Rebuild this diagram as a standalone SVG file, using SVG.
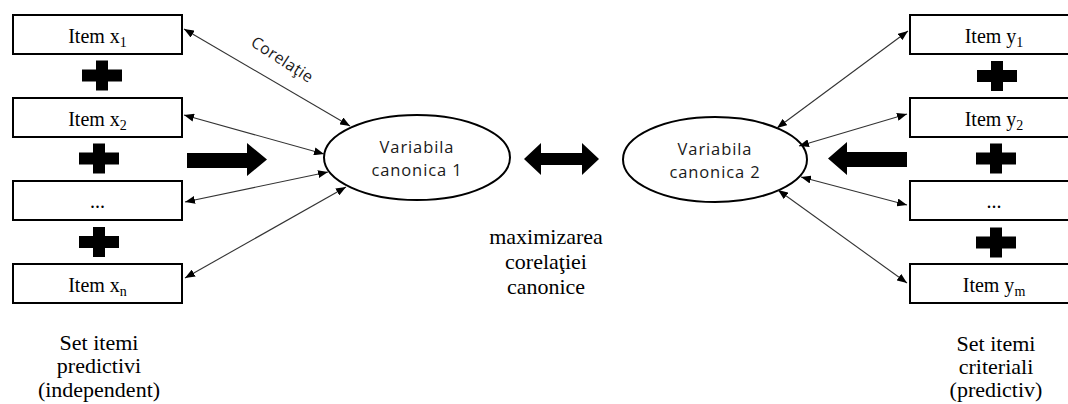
<svg xmlns="http://www.w3.org/2000/svg" width="1068" height="404" viewBox="0 0 1068 404">
  <style>
    .box { fill: #fff; stroke: #000; stroke-width: 2; }
    .ell { fill: #fff; stroke: #000; stroke-width: 2; }
    .serif { font-family: "Liberation Serif", "Times New Roman", serif; fill: #000; }
    .itm { font-size: 20px; text-anchor: middle; }
    .sub { font-size: 14px; }
    .big { font-size: 22px; text-anchor: middle; }
    .sans { font-family: "Open Sans", "DejaVu Sans", sans-serif; fill: #1a1a1a; }
    .var { font-size: 16.5px; letter-spacing: 0.9px; text-anchor: middle; }
    .con { stroke: #333; stroke-width: 1.1; fill: none; marker-start: url(#ah); marker-end: url(#ah); }
    .solid { fill: #000; }
  </style>
  <defs>
    <marker id="ah" viewBox="0 0 10 8" refX="10" refY="4" markerWidth="10" markerHeight="8" markerUnits="userSpaceOnUse" orient="auto-start-reverse">
      <path d="M0,0 L10,4 L0,8 z" fill="#000"/>
    </marker>
    <path id="plus" d="M-6,-15 H6 V-6 H20 V6 H6 V15 H-6 V6 H-20 V-6 H-6 Z"/>
  </defs>
  <rect width="1068" height="404" fill="#fff"/>

  <!-- Left set -->
  <g id="x1"><rect class="box" x="13" y="15" width="169" height="39"/><text class="serif itm" x="97.5" y="43">Item x<tspan class="sub" dy="4">1</tspan></text></g>
  <g id="x2"><rect class="box" x="13" y="98" width="169" height="39"/><text class="serif itm" x="97.5" y="126">Item x<tspan class="sub" dy="4">2</tspan></text></g>
  <g id="x3"><rect class="box" x="13" y="181" width="169" height="39"/><text class="serif itm" x="97.5" y="208">...</text></g>
  <g id="xn"><rect class="box" x="13" y="264" width="169" height="39"/><text class="serif itm" x="97.5" y="292">Item x<tspan class="sub" dy="4">n</tspan></text></g>
  <g id="plusL" class="solid">
    <use href="#plus" x="102" y="75.5"/>
    <use href="#plus" x="99" y="158.5"/>
    <use href="#plus" x="99" y="242"/>
  </g>

  <!-- Right set -->
  <g id="y1"><rect class="box" x="910" y="15" width="169" height="39"/><text class="serif itm" x="994" y="43">Item y<tspan class="sub" dy="4">1</tspan></text></g>
  <g id="y2"><rect class="box" x="910" y="98" width="169" height="39"/><text class="serif itm" x="994" y="126">Item y<tspan class="sub" dy="4">2</tspan></text></g>
  <g id="y3"><rect class="box" x="910" y="181" width="169" height="39"/><text class="serif itm" x="994" y="208">...</text></g>
  <g id="ym"><rect class="box" x="910" y="264" width="169" height="39"/><text class="serif itm" x="994" y="292">Item y<tspan class="sub" dy="4">m</tspan></text></g>
  <g id="plusR" class="solid">
    <use href="#plus" x="997" y="76"/>
    <use href="#plus" x="996" y="158.5"/>
    <use href="#plus" x="996" y="242.5"/>
  </g>

  <!-- Canonical variables -->
  <g id="v1"><ellipse class="ell" cx="417" cy="157.5" rx="93" ry="42.5"/>
    <text class="sans var" x="417" y="153">Variabila</text>
    <text class="sans var" x="417" y="176">canonica 1</text></g>
  <g id="v2"><ellipse class="ell" cx="715" cy="159.5" rx="92" ry="42.5"/>
    <text class="sans var" x="715" y="155">Variabila</text>
    <text class="sans var" x="715" y="178">canonica 2</text></g>

  <!-- Connectors -->
  <g id="connectors">
    <line class="con" x1="184" y1="29" x2="350" y2="126"/>
    <line class="con" x1="184" y1="115" x2="324" y2="154"/>
    <line class="con" x1="185" y1="202" x2="328" y2="172"/>
    <line class="con" x1="185" y1="278" x2="346" y2="187"/>
    <line class="con" x1="908" y1="31" x2="777" y2="128"/>
    <line class="con" x1="907" y1="114" x2="799" y2="146"/>
    <line class="con" x1="907" y1="205" x2="801" y2="177"/>
    <line class="con" x1="907" y1="283" x2="778" y2="190"/>
    <polygon class="solid" points="187,153 247,153 247,143 267,159.5 247,176 247,168 187,168"/>
    <polygon class="solid" points="907,152 847,152 847,142 828,158.5 847,175 847,167 907,167"/>
    <polygon class="solid" points="524,159 541,143 541,153 582,153 582,143 599,159 582,175 582,165 541,165 541,175"/>
  </g>

  <text class="sans" font-size="16" letter-spacing="0.4" text-anchor="middle" transform="translate(282,60) rotate(33)" y="5">Corelaţie</text>

  <g id="center-label" class="serif big">
    <text x="546" y="244">maximizarea</text>
    <text x="546" y="269">corelaţiei</text>
    <text x="546" y="294">canonice</text>
  </g>
  <g id="left-label" class="serif big">
    <text x="99" y="350">Set itemi</text>
    <text x="99" y="373">predictivi</text>
    <text x="99" y="397">(independent)</text>
  </g>
  <g id="right-label" class="serif big">
    <text x="996" y="351">Set itemi</text>
    <text x="996" y="374">criteriali</text>
    <text x="996" y="397">(predictiv)</text>
  </g>
</svg>
